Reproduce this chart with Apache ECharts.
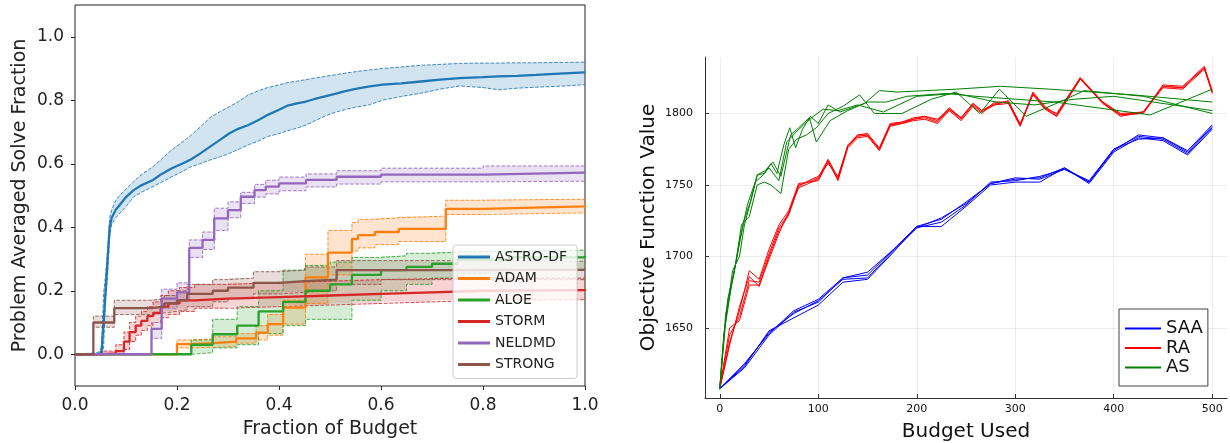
<!DOCTYPE html>
<html><head><meta charset="utf-8">
<script src="https://cdn.jsdelivr.net/npm/echarts@6/dist/echarts.min.js"></script>
<style>html,body{margin:0;padding:0;background:#fff}#c{width:1230px;height:443px}</style>
</head><body><div id="c"></div>
<script>
// ---------- LEFT PANEL DATA ----------
const solverNames = ['ASTRO-DF','ADAM','ALOE','STORM','NELDMD','STRONG'];
const leftXTicks = [0, 0.2, 0.4, 0.6, 0.8, 1.0];
const leftYTicks = [0, 0.2, 0.4, 0.6, 0.8, 1.0];

const astroX    = [0,0.045,0.052,0.056,0.06,0.064,0.068,0.072,0.08,0.09,0.1,0.115,0.13,0.153,0.17,0.19,0.21,0.228,0.245,0.265,0.285,0.303,0.32,0.34,0.36,0.378,0.4,0.415,0.435,0.453,0.47,0.49,0.51,0.528,0.55,0.575,0.603,0.64,0.678,0.716,0.754,0.8,0.83,0.867,0.904,0.95,1.0];
const astroMean = [0,0,0.005,0.1,0.2,0.3,0.4,0.43,0.455,0.475,0.495,0.517,0.532,0.549,0.568,0.586,0.6,0.614,0.632,0.654,0.676,0.696,0.71,0.722,0.738,0.754,0.77,0.782,0.79,0.796,0.804,0.812,0.82,0.828,0.836,0.843,0.849,0.853,0.859,0.865,0.87,0.873,0.875,0.877,0.88,0.884,0.888];
const astroHi   = [0,0.005,0.02,0.19,0.25,0.33,0.43,0.455,0.485,0.505,0.52,0.544,0.565,0.591,0.615,0.644,0.668,0.69,0.715,0.745,0.765,0.78,0.795,0.817,0.83,0.84,0.848,0.855,0.86,0.865,0.87,0.875,0.88,0.885,0.89,0.895,0.9,0.905,0.91,0.913,0.916,0.917,0.917,0.918,0.918,0.919,0.92];
const astroLo   = [0,0,0,0.02,0.17,0.25,0.37,0.41,0.43,0.448,0.465,0.496,0.51,0.528,0.542,0.559,0.575,0.591,0.6,0.612,0.622,0.633,0.645,0.66,0.672,0.686,0.695,0.703,0.712,0.722,0.735,0.75,0.762,0.77,0.778,0.785,0.8,0.812,0.822,0.835,0.845,0.84,0.833,0.838,0.841,0.844,0.849];

const adamX    = [0,0.2,0.23,0.27,0.316,0.355,0.378,0.408,0.452,0.496,0.543,0.555,0.588,0.635,0.727,0.8,0.9,1.0];
const adamMean = [0,0.032,0.035,0.04,0.05,0.068,0.095,0.147,0.242,0.32,0.363,0.375,0.385,0.395,0.458,0.462,0.466,0.47];
const adamHi   = [0,0.045,0.048,0.055,0.065,0.09,0.125,0.17,0.315,0.39,0.415,0.425,0.43,0.435,0.485,0.487,0.488,0.49];
const adamLo   = [0,0.02,0.022,0.025,0.035,0.045,0.06,0.095,0.16,0.25,0.325,0.335,0.345,0.355,0.44,0.443,0.445,0.447];

const aloeX    = [0,0.228,0.27,0.318,0.36,0.408,0.452,0.5,0.543,0.6,0.65,0.7,0.75,0.85,1.0];
const aloeMean = [0,0.03,0.063,0.09,0.135,0.165,0.2,0.22,0.25,0.265,0.275,0.285,0.298,0.305,0.31];
const aloeHi   = [0,0.045,0.11,0.15,0.2,0.265,0.28,0.29,0.305,0.31,0.318,0.322,0.325,0.328,0.33];
const aloeLo   = [0,0.005,0.02,0.03,0.065,0.09,0.11,0.11,0.17,0.2,0.22,0.24,0.255,0.265,0.275];

const stormX    = [0,0.05,0.08,0.096,0.107,0.119,0.13,0.142,0.153,0.168,0.183,0.205,0.235,0.3,0.4,0.5,0.6,0.7,0.8,1.0];
const stormMean = [0,0.003,0.01,0.04,0.07,0.09,0.105,0.12,0.13,0.15,0.16,0.17,0.175,0.18,0.185,0.19,0.195,0.2,0.202,0.205];
const stormHi   = [0,0.01,0.03,0.07,0.1,0.12,0.135,0.15,0.165,0.185,0.2,0.21,0.22,0.225,0.23,0.235,0.238,0.24,0.24,0.24];
const stormLo   = [0,0,0,0.015,0.04,0.06,0.075,0.09,0.1,0.115,0.125,0.135,0.145,0.15,0.155,0.16,0.165,0.17,0.172,0.175];

const neldmdX    = [0,0.15,0.17,0.2,0.224,0.25,0.273,0.3,0.325,0.352,0.374,0.4,0.453,0.513,0.6,0.8,1.0];
const neldmdMean = [0,0.08,0.175,0.195,0.335,0.36,0.428,0.454,0.496,0.517,0.528,0.538,0.549,0.559,0.566,0.572,0.572];
const neldmdHi   = [0,0.1,0.205,0.225,0.36,0.385,0.46,0.48,0.51,0.535,0.548,0.558,0.568,0.578,0.586,0.593,0.595];
const neldmdLo   = [0,0.05,0.145,0.17,0.305,0.33,0.39,0.43,0.475,0.495,0.505,0.515,0.527,0.536,0.543,0.545,0.541];

const strongX    = [0,0.036,0.077,0.15,0.175,0.2,0.22,0.27,0.3,0.35,0.4,0.45,0.513,0.6,0.7,1.0];
const strongMean = [0,0.1,0.145,0.15,0.16,0.17,0.19,0.2,0.21,0.225,0.23,0.235,0.265,0.265,0.266,0.267];
const strongHi   = [0,0.12,0.17,0.175,0.185,0.2,0.22,0.235,0.24,0.26,0.265,0.275,0.295,0.295,0.293,0.29];
const strongLo   = [0,0.085,0.125,0.13,0.135,0.14,0.15,0.165,0.175,0.19,0.195,0.2,0.22,0.235,0.235,0.235];

// ---------- RIGHT PANEL DATA ----------
const methodNames = ['SAA','RA','AS'];
const rightXTicks = [0,100,200,300,400,500];
const rightYTicks = [1650,1700,1750,1800];

const saaX = [0,25,50,75,100,125,150,175,200,225,250,275,300,325,350,375,400,425,450,475,500];
const saa1 = [1607.5,1622,1645,1661,1668,1685,1687,1704,1721,1726,1738,1751,1754,1755,1762,1752,1774,1785,1783,1773,1791];
const saa2 = [1607.5,1624,1647,1660,1669,1684,1685,1703,1720,1724,1736,1752,1753,1756,1761,1753,1775,1784,1782,1772,1790];
const saa3 = [1607.5,1623,1648,1657,1666,1682,1684,1702,1721,1721,1735,1750,1752,1752,1762,1751,1773,1783,1781,1771,1789];
const saa4 = [1607.5,1625,1646,1662,1670,1685,1689,1704,1720,1727,1737,1751,1755,1754,1761,1752,1775,1782,1783,1774,1792];

const raX = [0,10,20,30,40,50,60,70,80,90,100,110,120,130,140,150,162,173,185,197,208,221,233,245,257,266,279,293,305,318,330,342,366,389,407,430,450,470,492,500];
const ra1 = [1607.5,1640,1662,1690,1684,1705,1722,1732,1751,1752,1755,1768,1755,1778,1785,1786,1776,1793,1794,1797,1798,1795,1804,1797,1807,1802,1807,1808,1792,1815,1805,1799,1825,1808,1799,1801,1820,1819,1833,1815];
const ra2 = [1607.5,1645,1658,1683,1682,1702,1720,1730,1750,1752,1753,1766,1754,1777,1784,1785,1775,1792,1793,1796,1797,1794,1803,1796,1806,1801,1806,1807,1791,1814,1804,1798,1824,1807,1799,1800,1819,1818,1832,1814];
const ra3 = [1607.5,1650,1655,1680,1680,1698,1716,1731,1748,1751,1754,1767,1753,1776,1783,1784,1774,1791,1793,1795,1796,1793,1802,1795,1805,1800,1808,1808,1793,1813,1803,1798,1824,1808,1800,1801,1818,1817,1831,1815];
const ra4 = [1607.5,1638,1665,1686,1679,1700,1718,1729,1749,1753,1756,1765,1756,1777,1785,1785,1775,1792,1794,1796,1798,1796,1803,1797,1807,1802,1806,1809,1792,1814,1804,1800,1825,1807,1798,1801,1819,1818,1832,1816];

const asX1 = [0,5,13,20,25,32,38,45,52,58,65,71,77,84,92,100,110,122,147,162,180,240,285,335,420,500];
const as1  = [1607.5,1650,1690,1700,1722,1740,1757,1758,1765,1758,1778,1790,1776,1789,1798,1793,1806,1801,1807,1816,1815,1817,1819,1817,1813,1808];
const asX2 = [0,6,15,22,30,38,45,52,62,70,78,88,98,110,125,142,157,185,215,240,264,284,311,345,370,430,500];
const as2  = [1607.5,1660,1690,1722,1728,1750,1752,1750,1744,1775,1782,1785,1790,1800,1805,1813,1800,1800,1810,1815,1800,1817,1798,1808,1816,1812,1800];
const asX3 = [0,8,16,24,31,38,46,54,62,72,80,91,98,112,130,150,169,190,230,260,300,340,437,500];
const as3  = [1607.5,1670,1694,1724,1738,1757,1760,1766,1756,1785,1790,1797,1780,1795,1802,1808,1808,1812,1814,1812,1810,1808,1799,1817];
const asX4 = [0,4,12,20,28,36,44,50,60,68,76,85,95,105,120,140,166,200,240,280,320,360,400,460,500];
const as4  = [1607.5,1645,1680,1710,1736,1752,1757,1762,1753,1780,1786,1792,1798,1803,1802,1806,1801,1812,1814,1808,1806,1810,1812,1806,1802];

// ---------- BUILD ----------
const P = (xs, ys) => xs.map((x, i) => [x, ys[i]]);

const solvers = [
  {name: solverNames[0], color: '#1f77b4', x: astroX, mean: astroMean, lo: astroLo, hi: astroHi, step: false},
  {name: solverNames[1], color: '#ff7f0e', x: adamX, mean: adamMean, lo: adamLo, hi: adamHi, step: 'end'},
  {name: solverNames[2], color: '#2ca02c', x: aloeX, mean: aloeMean, lo: aloeLo, hi: aloeHi, step: 'end'},
  {name: solverNames[3], color: '#d62728', x: stormX, mean: stormMean, lo: stormLo, hi: stormHi, step: 'end'},
  {name: solverNames[4], color: '#9467bd', x: neldmdX, mean: neldmdMean, lo: neldmdLo, hi: neldmdHi, step: 'end'},
  {name: solverNames[5], color: '#8c564b', x: strongX, mean: strongMean, lo: strongLo, hi: strongHi, step: 'end'}
];

function bandRenderer(s) {
  return function (params, api) {
    if (params.dataIndex !== 0) return null;
    const up = [], dn = [];
    for (let i = 0; i < s.x.length; i++) {
      if (s.step && i > 0) {
        up.push(api.coord([s.x[i], s.hi[i - 1]]));
        dn.push(api.coord([s.x[i], s.lo[i - 1]]));
      }
      up.push(api.coord([s.x[i], s.hi[i]]));
      dn.push(api.coord([s.x[i], s.lo[i]]));
    }
    return {
      type: 'polygon',
      shape: {points: up.concat(dn.reverse())},
      style: {fill: s.color, opacity: 0.2, stroke: null}
    };
  };
}

const series = [];
solvers.forEach((s) => {
  series.push({
    name: s.name + ' band', type: 'custom', coordinateSystem: 'cartesian2d',
    xAxisIndex: 0, yAxisIndex: 0, silent: true, z: 1, clip: true,
    data: [[s.x[0], s.lo[0]]], renderItem: bandRenderer(s)
  });
});
solvers.forEach((s) => {
  ['lo', 'hi'].forEach(key => {
    series.push({
      name: s.name + ' ' + key, type: 'line', xAxisIndex: 0, yAxisIndex: 0,
      step: s.step, data: P(s.x, s[key]), symbol: 'none', silent: true, z: 2,
      lineStyle: {color: s.color, width: 1, type: [3.7, 1.6], opacity: 0.85},
      itemStyle: {color: s.color}
    });
  });
});
solvers.forEach(s => {
  series.push({
    name: s.name, type: 'line', xAxisIndex: 0, yAxisIndex: 0, step: s.step,
    data: P(s.x, s.mean), symbol: 'none', z: 3,
    lineStyle: {color: s.color, width: 2.3}, itemStyle: {color: s.color}
  });
});

const rightSets = [
  {name: methodNames[0], color: '#0000ff', sets: [[saaX, saa1], [saaX, saa2], [saaX, saa3], [saaX, saa4]]},
  {name: methodNames[1], color: '#ff0000', sets: [[raX, ra1], [raX, ra2], [raX, ra3], [raX, ra4]]},
  {name: methodNames[2], color: '#008000', sets: [[asX1, as1], [asX2, as2], [asX3, as3], [asX4, as4]]}
];
rightSets.forEach(m => {
  m.sets.forEach(([xs, ys]) => {
    series.push({
      name: m.name, type: 'line', xAxisIndex: 1, yAxisIndex: 1,
      data: P(xs, ys), symbol: 'none', z: 3,
      lineStyle: {color: m.color, width: 1}, itemStyle: {color: m.color}
    });
  });
});

const font = 'DejaVu Sans';
const option = {
  animation: false,
  backgroundColor: '#fff',
  textStyle: {fontFamily: font},
  grid: [
    {left: 75, top: 5, width: 510, height: 381, show: true, borderColor: '#222', borderWidth: 1,
     backgroundColor: 'transparent', outerBoundsMode: 'none', containLabel: false},
    {left: 705, top: 57, width: 522, height: 341, show: false, outerBoundsMode: 'none', containLabel: false}
  ],
  xAxis: [
    {type: 'value', gridIndex: 0, min: 0, max: 1,
     axisLine: {show: false, onZero: false},
     axisTick: {show: true, inside: false, length: 4, lineStyle: {color: '#222'}, customValues: leftXTicks},
     axisLabel: {customValues: leftXTicks, formatter: v => v.toFixed(1), fontSize: 17, color: '#222', margin: 11, fontFamily: font},
     splitLine: {show: false},
     name: 'Fraction of Budget', nameLocation: 'middle', nameGap: 34,
     nameTextStyle: {fontSize: 19, color: '#222', fontFamily: font}},
    {type: 'value', gridIndex: 1, min: -15, max: 515,
     axisLine: {show: true, onZero: false, lineStyle: {color: '#333', width: 1}},
     axisTick: {show: true, inside: true, length: 4, lineStyle: {color: '#333'}, customValues: rightXTicks},
     axisLabel: {customValues: rightXTicks, formatter: v => String(v), fontSize: 11, color: '#111', margin: 6, fontFamily: font},
     splitLine: {show: true, lineStyle: {color: 'rgba(0,0,0,0.07)', width: 1}},
     name: 'Budget Used', nameLocation: 'middle', nameGap: 24,
     nameTextStyle: {fontSize: 20, color: '#111', fontFamily: font}}
  ],
  yAxis: [
    {type: 'value', gridIndex: 0, min: -0.1, max: 1.1,
     axisLine: {show: false, onZero: false},
     axisTick: {show: true, inside: false, length: 4, lineStyle: {color: '#222'}, customValues: leftYTicks},
     axisLabel: {customValues: leftYTicks, formatter: v => v.toFixed(1), fontSize: 17, color: '#222', margin: 11, fontFamily: font},
     splitLine: {show: false},
     name: 'Problem Averaged Solve Fraction', nameLocation: 'middle', nameGap: 45,
     nameTextStyle: {fontSize: 19, color: '#222', fontFamily: font}},
    {type: 'value', gridIndex: 1, min: 1601, max: 1839.5,
     axisLine: {show: true, onZero: false, lineStyle: {color: '#333', width: 1}},
     axisTick: {show: true, inside: true, length: 4, lineStyle: {color: '#333'}, customValues: rightYTicks},
     axisLabel: {customValues: rightYTicks, formatter: v => String(v), fontSize: 11, color: '#111', margin: 12, fontFamily: font},
     splitLine: {show: true, lineStyle: {color: 'rgba(0,0,0,0.07)', width: 1}},
     name: 'Objective Function Value', nameLocation: 'middle', nameGap: 46,
     nameTextStyle: {fontSize: 20, color: '#111', fontFamily: font}}
  ],
  legend: [
    {data: solverNames, orient: 'vertical', left: 453, top: 245,
     icon: 'rect', itemWidth: 32, itemHeight: 3, itemGap: 7.5,
     textStyle: {fontSize: 14, color: '#222', lineHeight: 14, fontFamily: font},
     padding: [5, 10, 7, 5], borderColor: '#ccc', borderWidth: 1, borderRadius: 3,
     backgroundColor: 'rgba(255,255,255,0.8)', selectedMode: false, z: 10},
    {data: methodNames, orient: 'vertical', left: 1119, top: 309,
     icon: 'rect', itemWidth: 36, itemHeight: 2, itemGap: 0.5,
     textStyle: {fontSize: 18, color: '#111', lineHeight: 19, fontFamily: font},
     padding: [10, 5, 9, 6], borderColor: '#444', borderWidth: 1, borderRadius: 0,
     backgroundColor: '#fff', selectedMode: false, z: 10}
  ],
  series: series
};
const chart = echarts.init(document.getElementById('c'));
chart.setOption(option);
</script>
</body></html>
